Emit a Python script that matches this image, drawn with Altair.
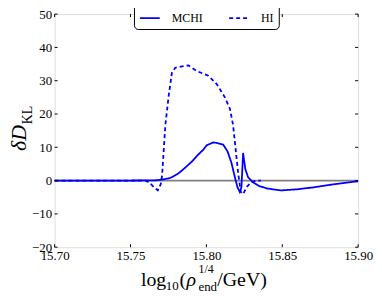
import altair as alt
import pandas as pd

# ---- data ----
mchi_x = [15.700, 15.740, 15.760, 15.7665, 15.7708, 15.7752, 15.7773, 15.7817, 15.7861,
          15.7904, 15.7948, 15.7980, 15.8002, 15.8046, 15.8067, 15.8111, 15.8139,
          15.8165, 15.8188, 15.8205, 15.8220, 15.8231, 15.8242, 15.8257, 15.8275,
          15.8307, 15.8351, 15.8405, 15.8492, 15.8600, 15.8710, 15.8810, 15.8907, 15.900]
mchi_y = [0.0, 0.0, 0.05, 0.1, 0.3, 0.7, 1.0, 2.2, 3.9,
          5.7, 7.9, 9.3, 10.6, 11.5, 11.3, 10.8, 8.8,
          5.4, 1.0, -2.0, -3.4, -2.0, 8.3, 3.4, 1.0,
          -0.5, -1.7, -2.4, -2.95, -2.6, -2.0, -1.3, -0.7, -0.2]

hi_x = [15.700, 15.740, 15.760, 15.7625, 15.7655, 15.7680, 15.7700, 15.7708, 15.7730,
        15.7752, 15.7773, 15.7795, 15.7840, 15.7882, 15.7937, 15.8013, 15.8068,
        15.8122, 15.8155, 15.8176, 15.8192, 15.8210, 15.8227, 15.8242, 15.8264,
        15.8296, 15.8329, 15.8360]
hi_y = [0.0, 0.0, 0.0, -0.6, -2.0, -2.9, -1.0, 1.5, 16.8,
        25.6, 32.4, 33.9, 34.3, 34.6, 32.9, 31.5, 29.0,
        25.0, 21.6, 16.7, 9.8, 2.0, -3.4, -4.1, -2.0,
        -0.5, 0.0, 0.0]

x_ticks = [15.70, 15.75, 15.80, 15.85, 15.90]
y_ticks = [-20, -10, 0, 10, 20, 30, 40, 50]
series_names = ["MCHI", "HI"]

df = pd.concat([
    pd.DataFrame({"x": mchi_x, "y": mchi_y, "series": series_names[0]}),
    pd.DataFrame({"x": hi_x, "y": hi_y, "series": series_names[1]}),
])
xt = pd.DataFrame({"v": x_ticks})
yt = pd.DataFrame({"v": y_ticks})
zero = pd.DataFrame({"v": [0]})

W, H = 306, 235
FONT = "Liberation Serif"
BLUE = "#0000ff"

xscale = alt.Scale(domain=[15.70, 15.90], nice=False, zero=False)
yscale = alt.Scale(domain=[-20, 50], nice=False)

xaxis = alt.Axis(values=x_ticks, format=".2f", title=None, domain=False, ticks=False,
                 grid=False, labelPadding=2, labelFontSize=13, labelFont=FONT,
                 labelColor="black", labelFlush=False, labelOverlap=False)
yaxis = alt.Axis(values=y_ticks, format="d", title=None, domain=False, ticks=False,
                 grid=False, labelPadding=3, labelFontSize=13, labelFont=FONT,
                 labelColor="black", labelOverlap=False, labelFlush=False)

zero_line = alt.Chart(zero).mark_rule(color="#808080", strokeWidth=1.6).encode(
    y=alt.Y("v:Q", scale=yscale, axis=yaxis)
)

lines = alt.Chart(df).mark_line(strokeWidth=1.8, color=BLUE).encode(
    x=alt.X("x:Q", scale=xscale, axis=xaxis),
    y=alt.Y("y:Q", scale=yscale, axis=yaxis),
    strokeDash=alt.StrokeDash(
        "series:N",
        scale=alt.Scale(domain=series_names, range=[[1, 0], [4, 3]]),
        legend=alt.Legend(
            title=None, orient="none", legendX=80, legendY=-12, direction="horizontal",
            columns=2, symbolType="stroke", symbolSize=400, symbolStrokeWidth=1.8,
            symbolStrokeColor=BLUE, labelFont=FONT, labelFontSize=12, labelColor="black",
            labelOffset=11, columnPadding=22, padding=5, strokeColor="black",
            fillColor="white", cornerRadius=4,
        ),
    ),
    order="series:N",
)

# inward ticks on all four sides
tick_bottom = alt.Chart(xt).mark_rule(color="black", strokeWidth=1).encode(
    x=alt.X("v:Q", scale=xscale, axis=xaxis), y=alt.value(H), y2=alt.value(H - 3))
tick_top = alt.Chart(xt).mark_rule(color="black", strokeWidth=1).encode(
    x=alt.X("v:Q", scale=xscale, axis=xaxis), y=alt.value(0), y2=alt.value(3))
tick_left = alt.Chart(yt).mark_rule(color="black", strokeWidth=1).encode(
    y=alt.Y("v:Q", scale=yscale, axis=yaxis), x=alt.value(0), x2=alt.value(3))
tick_right = alt.Chart(yt).mark_rule(color="black", strokeWidth=1).encode(
    y=alt.Y("v:Q", scale=yscale, axis=yaxis), x=alt.value(W), x2=alt.value(W - 3))

one = pd.DataFrame({"d": [0]})


def txt(text, x, y, size, style="normal", angle=0):
    return alt.Chart(one).mark_text(
        text=text, font=FONT, fontSize=size, fontStyle=style, align="left",
        baseline="alphabetic", angle=angle, color="black"
    ).encode(x=alt.value(x), y=alt.value(y))


# x-axis title: log10(rho_end^{1/4}/GeV)
xtitle = [
    txt("log", 87, 274, 20),
    txt("10", 112, 278, 13),
    txt("(", 126, 274, 20),
    txt("ρ", 133, 274, 20, "italic"),
    txt("1/4", 145, 261, 12),
    txt("end", 145, 279, 13),
    txt("/GeV)", 164, 274, 20),
]
# y-axis title: delta D_KL
ytitle = [
    txt("δD", -29, 138, 22, "italic", 270),
    txt("KL", -23, 111, 14, "normal", 270),
]

chart = alt.layer(
    zero_line, lines, tick_bottom, tick_top, tick_left, tick_right, *xtitle, *ytitle
).properties(
    width=W, height=H, autosize=alt.AutoSizeParams(type="none"),
    padding={"left": 47, "top": 5, "right": 16, "bottom": 45},
).configure_view(stroke="black", strokeWidth=1).configure(background="white")

chart.save("out.html", embed_options={"renderer": "svg", "actions": False})
